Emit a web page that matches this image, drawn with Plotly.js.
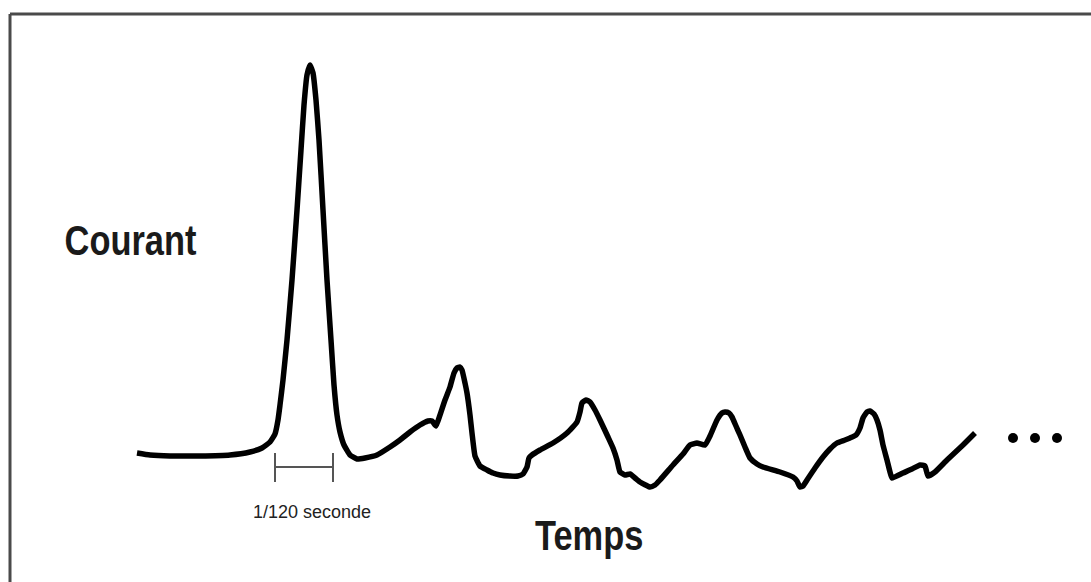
<!DOCTYPE html>
<html>
<head>
<meta charset="utf-8">
<script src="https://cdn.plot.ly/plotly-3.0.1.min.js"></script>
<style>html,body{margin:0;padding:0;background:#fff;}#chart{width:1091px;height:582px;}</style>
</head>
<body>
<div id="chart"></div>
<script>
// Time (horizontal position) and current (vertical value)
const temps = [137,150,170,200,230,250,262,270,275,278,280,283,287,292,297,301,304,307,310,313,316,319,323,327,331,334,337,340,344,350,357,365,377,390,400,410,420,428,432,436,440,445,450,454,457,460,462,465,467,470,472,475,480,487,493,500,510,518,523,527,529,532,540,553,567,577,580,582,586,590,595,600,608,613,617,620,625,630,635,640,650,655,660,673,683,690,697,705,710,717,722,725,729,732,736,740,745,750,757,763,780,793,797,800,803,807,815,823,830,837,845,850,856,860,863,867,870,874,877,880,883,887,890,892,903,912,920,925,928,935,947,963,975];
const courant = [2,0,-1,-1,0,3,7,13,21,35,50,75,115,175,245,305,350,380,390,382,355,315,245,175,115,70,40,23,10,0,-4,-3,0,8,15,23,30,34,34,29,40,55,68,82,87,88,85,72,62,40,22,-1,-11,-15,-18,-20,-21,-21,-19,-12,-3,0,5,12,22,33,43,52,55,53,45,35,18,7,-5,-17,-20,-19,-23,-27,-32,-30,-25,-10,1,10,12,10,19,35,42,43,42,38,29,20,8,-3,-9,-12,-17,-22,-26,-32,-31,-25,-13,-2,6,12,15,17,20,27,37,43,44,41,35,25,10,-5,-17,-23,-18,-14,-10,-11,-21,-17,-5,10,22];
// Continuation dots
const dotsX = [1013,1035,1057];
const dotsY = [17,17,17];
// Labels
const labelY = "Courant";
const labelX = "Temps";
const labelScale = "1/120 seconde";

const boldFont = "'Liberation Sans', Arial, sans-serif";

const traces = [
  {x: temps, y: courant, type: 'scatter', mode: 'lines',
   line: {color: '#000', width: 5.5, shape: 'spline', smoothing: 0.4},
   hoverinfo: 'skip'},
  {x: dotsX, y: dotsY, type: 'scatter', mode: 'markers',
   marker: {color: '#000', size: 10}, hoverinfo: 'skip'}
];

const layout = {
  width: 1091, height: 582,
  margin: {l: 0, r: 0, t: 0, b: 0, pad: 0},
  paper_bgcolor: '#fff', plot_bgcolor: '#fff',
  showlegend: false,
  xaxis: {range: [0, 1091], visible: false, showgrid: false, zeroline: false, fixedrange: true},
  yaxis: {range: [-127, 455], visible: false, showgrid: false, zeroline: false, fixedrange: true},
  shapes: [
    {type: 'line', xref: 'x', yref: 'y', x0: 10, y0: 441, x1: 1091, y1: 441, line: {color: '#4a4a4a', width: 3}},
    {type: 'line', xref: 'x', yref: 'y', x0: 10, y0: 441, x1: 10, y1: -127, line: {color: '#4a4a4a', width: 3}},
    {type: 'line', xref: 'x', yref: 'y', x0: 275, y0: -12, x1: 333, y1: -12, line: {color: '#555', width: 2}},
    {type: 'line', xref: 'x', yref: 'y', x0: 275, y0: 2, x1: 275, y1: -27, line: {color: '#555', width: 2}},
    {type: 'line', xref: 'x', yref: 'y', x0: 333, y0: 2, x1: 333, y1: -27, line: {color: '#555', width: 2}}
  ],
  annotations: [
    {text: '<b>' + labelY + '</b>', x: 130, y: 215, xref: 'x', yref: 'y', showarrow: false,
     font: {family: boldFont, size: 42, color: '#1a1a1a'}},
    {text: '<b>' + labelX + '</b>', x: 589, y: -80, xref: 'x', yref: 'y', showarrow: false,
     font: {family: boldFont, size: 42, color: '#1a1a1a'}},
    {text: labelScale, x: 312, y: -57, xref: 'x', yref: 'y', showarrow: false,
     font: {family: boldFont, size: 18, color: '#222'}}
  ]
};

Plotly.newPlot('chart', traces, layout, {displayModeBar: false, staticPlot: true}).then(function (gd) {
  // Narrow the two large labels (condensed look of the original lettering)
  const texts = gd.querySelectorAll('text.annotation-text');
  [0, 1].forEach(function (i) {
    const t = texts[i];
    if (!t) return;
    const bb = t.getBBox();
    const cx = bb.x + bb.width / 2;
    t.setAttribute('transform', 'translate(' + cx + ',0) scale(0.82,1) translate(' + (-cx) + ',0)');
  });
});
</script>
</body>
</html>
